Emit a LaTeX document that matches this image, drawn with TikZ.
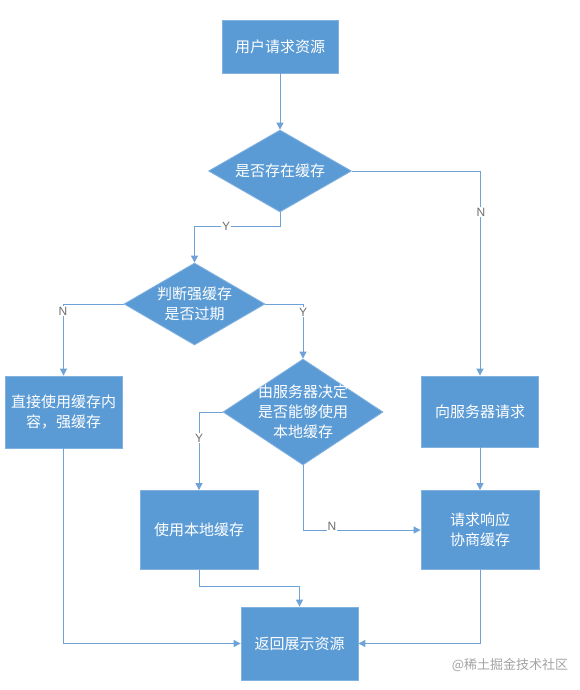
\documentclass[tikz,border=0pt]{standalone}
\usepackage{fontspec}
\setmainfont{Noto Sans CJK SC}
\newfontfamily\latinfont{Liberation Sans}
\usetikzlibrary{arrows.meta,shapes.geometric}
\definecolor{boxblue}{HTML}{5B9BD5}
\definecolor{boxedge}{HTML}{82B2E0}
\definecolor{linkblue}{HTML}{6FA3D8}
\definecolor{lblgray}{HTML}{6E6E6E}
\definecolor{wmgray}{HTML}{A3A3A3}
\tikzset{
  procbox/.style={rectangle, fill=boxblue, draw=boxedge, line width=0.8pt, text=white,
    align=center, inner sep=0pt, font=\fontsize{15}{20}\selectfont},
  decbox/.style={diamond, fill=boxblue, draw=boxedge, line width=0.8pt, inner sep=0pt},
  dectext/.style={text=white, align=center, inner sep=0pt, font=\fontsize{15}{20}\selectfont},
  link/.style={draw=linkblue, line width=1pt, -{Triangle[width=7pt,length=7pt]}},
  yn/.style={fill=white, text=lblgray, inner sep=1pt, font=\latinfont\fontsize{12}{13}\selectfont},
}
\begin{document}
\begin{tikzpicture}[x=1pt,y=-1pt]
\useasboundingbox (0,0) rectangle (579,690);
% boxes
\node[procbox, minimum width=116pt, minimum height=53pt] (b1) at (280,46.5) {用户请求资源};
\node[procbox, minimum width=117pt, minimum height=72pt] (b2) at (63.5,412) {直接使用缓存内\\容，强缓存};
\node[procbox, minimum width=118pt, minimum height=79pt] (b3) at (199,530) {使用本地缓存};
\node[procbox, minimum width=117pt, minimum height=71pt] (b4) at (480,411.5) {向服务器请求};
\node[procbox, minimum width=118pt, minimum height=79pt] (b5) at (480,530) {请求响应\\协商缓存};
\node[procbox, minimum width=117pt, minimum height=73pt] (b6) at (299.5,643.5) {返回展示资源};
% diamonds
\node[decbox, minimum width=143pt, minimum height=82pt] (d1) at (280,171) {};
\node[dectext] (t1) at (d1) {是否存在缓存};
\node[decbox, minimum width=141pt, minimum height=82pt] (d2) at (194.5,304) {};
\node[dectext] (t2) at (d2) {判断强缓存\\是否过期};
\node[decbox, minimum width=160pt, minimum height=106pt] (d3) at (303,412) {};
\node[dectext] (t3) at (d3) {由服务器决定\\是否能够使用\\本地缓存};
% connectors
\draw[link] (b1) -- (d1);
\draw[link] (d1.east) -| (b4.north);
\draw[link] (d1.south) -- ++(0,14) coordinate (c1) -| (d2.north);
\draw[link] (d2.west) -| (b2.north);
\draw[link] (d2.east) -| (d3.north);
\draw[link] (d3.west) -| (b3.north);
\draw[link] (d3.south) |- (b5.west);
\draw[link] (b4) -- (b5);
\draw[link] (b3.south) -- ++(0,17) coordinate (c2) -| (b6.north);
\draw[link] (b2.south) |- (b6.west);
\draw[link] (b5.south) |- (b6.east);
% labels
\node[yn] (n1) at (481,212) {N};
\node[yn] (y1) at (226,226) {Y};
\node[yn] (n2) at (63,311) {N};
\node[yn] (y2) at (303,312) {Y};
\node[yn] (y3) at (199,438) {Y};
\node[yn] (n3) at (332,526) {N};
% watermark
\node[text=wmgray, inner sep=0pt, font=\fontsize{13}{14}\selectfont] (wm) at (510,665) {@稀土掘金技术社区};
\end{tikzpicture}
\end{document}
